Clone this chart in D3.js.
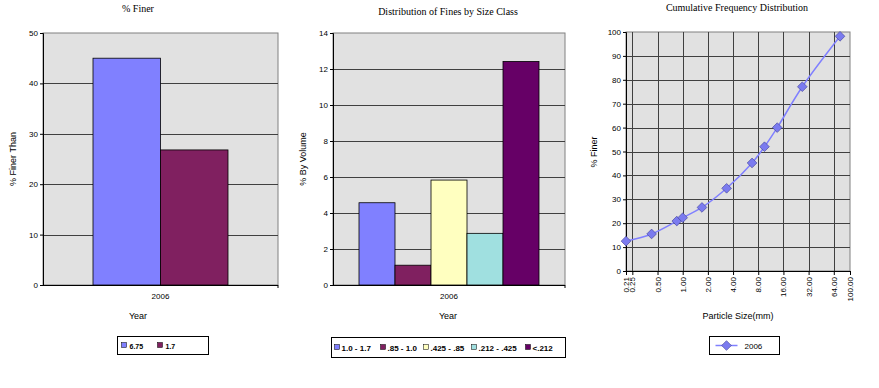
<!DOCTYPE html>
<html>
<head>
<meta charset="utf-8">
<script src="https://cdn.jsdelivr.net/npm/d3@7"></script>
<style>
  body { margin: 0; background: #fff; }
  svg { display: block; }
  text { font-family: "Liberation Sans", Arial, sans-serif; fill: #000; }
  .title { font-family: "Liberation Serif", "Times New Roman", serif; font-size: 10px; }
</style>
</head>
<body>
<div id="chart"></div>
<script>
// Chart 1: % Finer
const finerYear = ['2006'];
const finerSeries = ['6.75', '1.7'];
const finerValues = [45, 26.8];
const finerTicks = [0, 10, 20, 30, 40, 50];

// Chart 2: distribution of fines
const classNames = ['1.0 - 1.7', '.85 - 1.0', '.425 - .85', '.212 - .425', '<.212'];
const classValues = [4.57, 1.1, 5.83, 2.87, 12.42];
const classTicks = [0, 2, 4, 6, 8, 10, 12, 14];

// Chart 3: cumulative frequency
const sizeTicks = [0.21, 0.25, 0.5, 1, 2, 4, 8, 16, 32, 64, 100];
const cumSize = [0.21, 0.425, 0.85, 1.0, 1.7, 3.35, 6.75, 9.5, 13.5, 26.9, 76];
const cumFiner = [12.5, 15.5, 20.9, 22.3, 26.6, 34.6, 45.2, 52.0, 60.0, 77.1, 98.2];
const cumTicks = [0, 10, 20, 30, 40, 50, 60, 70, 80, 90, 100];

const palette = ['#8080ff', '#802060', '#ffffc0', '#a0e0e0', '#660066'];
const plotBg = '#e1e1e1';
const gridColor = '#404040';

const svg = d3.select('#chart').append('svg')
  .attr('width', 879).attr('height', 388);

function frame(g, w, h) {
  g.append('rect').attr('width', w).attr('height', h)
    .attr('fill', plotBg).attr('stroke', '#808080');
}

function yAxis(g, y, ticks, w) {
  g.selectAll('.grid').data(ticks.slice(1, -1)).join('line')
    .attr('x1', 0).attr('x2', w)
    .attr('y1', d => Math.round(y(d)) + 0.5).attr('y2', d => Math.round(y(d)) + 0.5)
    .attr('stroke', gridColor);
  const ax = g.append('g')
    .call(d3.axisLeft(y).tickValues(ticks).tickSize(3).tickPadding(2).tickFormat(d3.format('d')));
  ax.select('.domain').attr('stroke', '#000');
  ax.selectAll('.tick line').attr('stroke', '#000');
  ax.selectAll('text').style('font-size', '8px').attr('fill', '#000');
}

function legendBox(x, y, w, h) {
  const lg = svg.append('g').attr('transform', `translate(${x},${y})`);
  lg.append('rect').attr('width', w).attr('height', h)
    .attr('fill', '#fff').attr('stroke', '#000');
  return lg;
}

// ---------- Chart 1 ----------
{
  const m = { left: 43, top: 33 }, w = 235, h = 252;
  const g = svg.append('g').attr('transform', `translate(${m.left},${m.top})`);
  const y = d3.scaleLinear().domain([0, 50]).range([h, 0]);
  const x0 = d3.scaleBand().domain(finerYear).range([0, w]);
  const x1 = d3.scaleBand().domain(finerSeries).range([50, 185]);
  frame(g, w, h);
  yAxis(g, y, finerTicks, w);
  g.selectAll('.bar').data(finerValues).join('rect')
    .attr('x', (d, i) => x0('2006') + x1(finerSeries[i]))
    .attr('width', x1.bandwidth())
    .attr('y', d => y(d)).attr('height', d => h - y(d))
    .attr('fill', (d, i) => palette[i]).attr('stroke', '#000').attr('stroke-width', 0.8);
  g.append('line').attr('x1', w).attr('x2', w).attr('y1', h).attr('y2', h + 3).attr('stroke', '#000');
  g.append('line').attr('x1', 0).attr('x2', w).attr('y1', h + 0.5).attr('y2', h + 0.5).attr('stroke', '#000');
  g.append('text').attr('x', x0('2006') + x0.bandwidth() / 2).attr('y', h + 14)
    .attr('text-anchor', 'middle').style('font-size', '8px').text('2006');
  svg.append('text').attr('class', 'title').attr('x', 138).attr('y', 12)
    .attr('text-anchor', 'middle').text('% Finer');
  svg.append('text').attr('x', 138).attr('y', 319).attr('text-anchor', 'middle')
    .style('font-size', '9px').text('Year');
  svg.append('text').attr('transform', 'translate(16,159) rotate(-90)')
    .attr('text-anchor', 'middle').style('font-size', '9px').text('% Finer Than');
  const lg = legendBox(117.5, 336.5, 91, 18);
  const offs = [4, 40];
  finerSeries.forEach((s, i) => {
    const lx = offs[i];
    lg.append('rect').attr('x', lx).attr('y', 6).attr('width', 5).attr('height', 5)
      .attr('fill', palette[i]).attr('stroke', '#000').attr('stroke-width', 0.5);
    lg.append('text').attr('x', lx + 8).attr('y', 12).style('font-size', '7px')
      .style('font-weight', 'bold').text(s);
  });
}

// ---------- Chart 2 ----------
{
  const m = { left: 333, top: 33 }, w = 232, h = 252;
  const g = svg.append('g').attr('transform', `translate(${m.left},${m.top})`);
  const y = d3.scaleLinear().domain([0, 14]).range([h, 0]);
  const x = d3.scaleBand().domain(classNames).range([26, 206]);
  frame(g, w, h);
  yAxis(g, y, classTicks, w);
  g.selectAll('.bar').data(classValues).join('rect')
    .attr('x', (d, i) => x(classNames[i]))
    .attr('width', x.bandwidth())
    .attr('y', d => y(d)).attr('height', d => h - y(d))
    .attr('fill', (d, i) => palette[i]).attr('stroke', '#000').attr('stroke-width', 0.8);
  g.append('line').attr('x1', 0).attr('x2', w).attr('y1', h + 0.5).attr('y2', h + 0.5).attr('stroke', '#000');
  g.append('line').attr('x1', w).attr('x2', w).attr('y1', h).attr('y2', h + 3).attr('stroke', '#000');
  g.append('text').attr('x', w / 2).attr('y', h + 14)
    .attr('text-anchor', 'middle').style('font-size', '8px').text('2006');
  svg.append('text').attr('class', 'title').attr('x', 448).attr('y', 15)
    .attr('text-anchor', 'middle').text('Distribution of Fines by Size Class');
  svg.append('text').attr('x', 448).attr('y', 319).attr('text-anchor', 'middle')
    .style('font-size', '9px').text('Year');
  svg.append('text').attr('transform', 'translate(306,159) rotate(-90)')
    .attr('text-anchor', 'middle').style('font-size', '9px').text('% By Volume');
  const lg = legendBox(331.5, 337.5, 234, 20);
  const offs = [3, 49, 92, 140, 194];
  classNames.forEach((s, i) => {
    const lx = offs[i];
    lg.append('rect').attr('x', lx).attr('y', 7).attr('width', 5).attr('height', 5)
      .attr('fill', palette[i]).attr('stroke', '#000').attr('stroke-width', 0.5);
    lg.append('text').attr('x', lx + 7).attr('y', 13).style('font-size', '8px')
      .style('font-weight', 'bold').text(s);
  });
}

// ---------- Chart 3 ----------
{
  const m = { left: 626, top: 32 }, w = 224, h = 239;
  const g = svg.append('g').attr('transform', `translate(${m.left},${m.top})`);
  const y = d3.scaleLinear().domain([0, 100]).range([h, 0]);
  const x = d3.scaleLog().base(2).domain([0.21, 100]).range([0, w]);
  frame(g, w, h);
  g.selectAll('.vgrid').data(sizeTicks.slice(1, -1)).join('line')
    .attr('x1', d => Math.round(x(d)) + 0.5).attr('x2', d => Math.round(x(d)) + 0.5)
    .attr('y1', 0).attr('y2', h).attr('stroke', gridColor);
  yAxis(g, y, cumTicks, w);
  const xa = g.append('g').attr('transform', `translate(0,${h})`)
    .call(d3.axisBottom(x).tickValues(sizeTicks).tickSize(4).tickFormat(d3.format('.2f')));
  xa.select('.domain').attr('stroke', '#000');
  xa.selectAll('.tick line').attr('stroke', '#000');
  xa.selectAll('text').style('font-size', '8px').attr('fill', '#000')
    .attr('transform', 'rotate(-90)').attr('text-anchor', 'end')
    .attr('x', -6).attr('y', 0).attr('dy', '0.32em');
  const pts = cumSize.map((s, i) => [s, cumFiner[i]]);
  const line = d3.line().x(d => x(d[0])).y(d => y(d[1])).curve(d3.curveCatmullRom);
  g.append('path').datum(pts).attr('fill', 'none')
    .attr('stroke', '#8080ff').attr('stroke-width', 1.5).attr('d', line);
  const diamond = d3.symbol().type(d3.symbolDiamond2).size(60);
  g.selectAll('.pt').data(pts).join('path')
    .attr('transform', d => `translate(${x(d[0])},${y(d[1])})`)
    .attr('d', diamond).attr('fill', '#7b7bef').attr('stroke', '#3c3c96').attr('stroke-width', 0.6);
  svg.append('text').attr('class', 'title').attr('x', 737).attr('y', 11)
    .attr('text-anchor', 'middle').text('Cumulative Frequency Distribution');
  svg.append('text').attr('x', 738).attr('y', 319).attr('text-anchor', 'middle')
    .style('font-size', '9px').text('Particle Size(mm)');
  svg.append('text').attr('transform', 'translate(597,152) rotate(-90)')
    .attr('text-anchor', 'middle').style('font-size', '9px').text('% Finer');
  const lg = legendBox(709.5, 336.5, 70, 18);
  lg.append('line').attr('x1', 6).attr('x2', 28).attr('y1', 9).attr('y2', 9)
    .attr('stroke', '#8080ff').attr('stroke-width', 1.5);
  lg.append('path').attr('transform', 'translate(17,9)').attr('d', diamond)
    .attr('fill', '#7b7bef').attr('stroke', '#3c3c96').attr('stroke-width', 0.6);
  lg.append('text').attr('x', 35).attr('y', 12).style('font-size', '8px').text('2006');
}
</script>
</body>
</html>
